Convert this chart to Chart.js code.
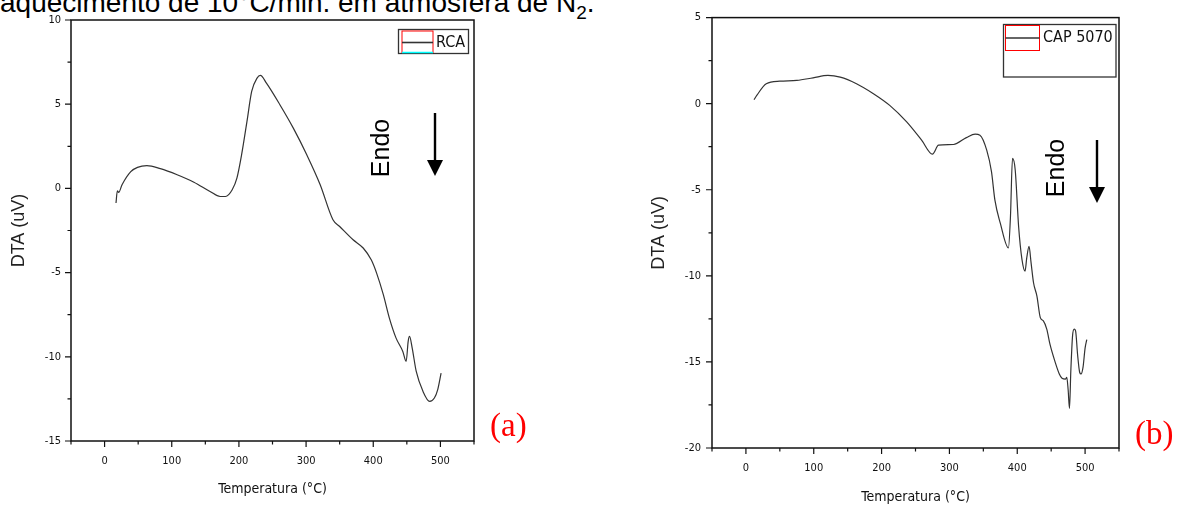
<!DOCTYPE html>
<html>
<head>
<meta charset="utf-8">
<script src="https://cdn.jsdelivr.net/npm/chart.js@4"></script>
<style>
  body { margin:0; background:#fff; width:1179px; height:508px; overflow:hidden; position:relative; font-family:Arial, 'Liberation Sans', sans-serif; }
  .cap { position:absolute; left:0; top:-11px; font-size:28px; line-height:28px; white-space:nowrap; color:#000; }
  .cap span { font-size:19px; position:relative; top:7px; }
  .tag { position:absolute; color:#f00; font-family:'Liberation Serif','Times New Roman',serif; font-size:33px; line-height:33px; }
  .box { position:absolute; top:0; height:508px; }
</style>
</head>
<body>
<div class="cap">aquecimento de 10°C/min. em atmosfera de N<span>2</span>.</div>
<div class="box" style="left:0;width:590px"><canvas id="dtaA"></canvas></div>
<div class="box" style="left:590px;width:589px"><canvas id="dtaB"></canvas></div>
<div class="tag" style="left:490px;top:409px">(a)</div>
<div class="tag" style="left:1135px;top:417px">(b)</div>

<script>
// (a) RCA  -- temperatura (°C) / DTA (uV)
var rcaTemp = [17, 19, 21, 26, 39, 49, 63, 83, 108, 133, 157, 172, 180, 190, 197, 204, 212, 219, 227, 232, 241, 261, 281, 301, 321, 340, 350, 370, 385, 397, 405, 415, 424, 434, 444, 449, 452, 454, 458, 464, 474, 484, 491, 496, 501];
var rcaDTA  = [-0.87, -0.14, -0.24, 0.22, 1.0, 1.25, 1.35, 1.17, 0.81, 0.37, -0.18, -0.48, -0.48, -0.08, 0.61, 2.0, 3.98, 5.76, 6.55, 6.71, 6.25, 4.97, 3.58, 2.0, 0.22, -1.86, -2.26, -3.05, -3.54, -4.24, -5.03, -6.31, -7.7, -8.89, -9.68, -10.27, -9.08, -8.79, -9.48, -10.87, -12.05, -12.65, -12.45, -11.95, -10.97];

// (b) CAP 5070
var capTemp = [12, 16, 30, 50, 75, 99, 121, 139, 163, 188, 212, 237, 259, 275, 284, 306, 325, 338, 345, 355, 362, 367, 375, 387, 390, 393, 397, 402, 407, 411.5, 414, 417.4, 420.4, 424, 429, 434, 438.5, 443.5, 448.4, 455.8, 462, 466, 471, 473, 475, 477, 479, 481.5, 484, 486, 489, 492, 494, 497, 500, 502.5];
var capDTA  = [0.23, 0.48, 1.16, 1.31, 1.35, 1.5, 1.64, 1.54, 1.16, 0.58, -0.1, -1.06, -2.12, -2.93, -2.41, -2.37, -1.97, -1.77, -1.83, -2.7, -3.95, -5.59, -6.94, -8.38, -6.55, -3.18, -3.85, -7.13, -9.06, -9.73, -8.96, -8.29, -9.25, -10.4, -11.18, -12.43, -12.62, -13.1, -14.0, -15.0, -15.7, -15.95, -16.0, -15.9, -16.6, -17.7, -15.5, -13.5, -13.1, -13.2, -14.6, -15.6, -15.7, -15.3, -14.2, -13.7];

// tick labels
var xTicks  = [0, 100, 200, 300, 400, 500];
var xMinor  = [-50, 50, 150, 250, 350, 450, 550];
var yTicksA = [-15, -10, -5, 0, 5, 10];
var yMinorA = [-12.5, -7.5, -2.5, 2.5, 7.5];
var yTicksB = [-20, -15, -10, -5, 0, 5];
var yMinorB = [-17.5, -12.5, -7.5, -2.5, 2.5];

var narrow = "'Liberation Sans Narrow', 'Arial Narrow', 'DejaVu Sans Condensed', Arial, sans-serif";

// frame, tick marks, legend box and the Endo arrow (Origin style)
var framePlugin = {
  id: 'frame',
  afterDraw: function(chart, args, o) {
    var ctx = chart.ctx, a = chart.chartArea;
    var xs = chart.scales.x, ys = chart.scales.y;
    ctx.save();
    ctx.strokeStyle = '#111';
    ctx.lineWidth = 1.5;
    ctx.strokeRect(a.left, a.top, a.right - a.left, a.bottom - a.top);

    ctx.lineWidth = 1.2;
    ctx.beginPath();
    o.xMajor.forEach(function(v) { var p = xs.getPixelForValue(v); ctx.moveTo(p, a.bottom); ctx.lineTo(p, a.bottom + 6); });
    o.xMinor.forEach(function(v) { var p = xs.getPixelForValue(v); ctx.moveTo(p, a.bottom); ctx.lineTo(p, a.bottom + 3.5); });
    o.yMajor.forEach(function(v) { var p = ys.getPixelForValue(v); ctx.moveTo(a.left, p); ctx.lineTo(a.left - 6, p); });
    o.yMinor.forEach(function(v) { var p = ys.getPixelForValue(v); ctx.moveTo(a.left, p); ctx.lineTo(a.left - 3.5, p); });
    ctx.stroke();

    // legend
    var L = o.legend;
    ctx.strokeStyle = '#333';
    ctx.lineWidth = 1.3;
    ctx.strokeRect(L.x, L.y, L.w, L.h);
    ctx.strokeStyle = '#f00';
    ctx.lineWidth = 1;
    ctx.strokeRect(L.sx, L.sy, L.sw, L.sh);
    if (L.cyan) {
      ctx.strokeStyle = '#0ff';
      ctx.lineWidth = 1.5;
      ctx.beginPath(); ctx.moveTo(L.sx, L.sy + L.sh); ctx.lineTo(L.sx + L.sw, L.sy + L.sh); ctx.stroke();
    }
    ctx.strokeStyle = '#333';
    ctx.lineWidth = 1.6;
    ctx.beginPath(); ctx.moveTo(L.sx, L.ly); ctx.lineTo(L.sx + L.sw, L.ly); ctx.stroke();
    ctx.fillStyle = '#111';
    ctx.font = L.size + 'px ' + narrow;
    ctx.textBaseline = 'middle';
    ctx.textAlign = 'left';
    ctx.fillText(L.text, L.tx, L.ly);

    // Endo + arrow
    var E = o.endo;
    ctx.save();
    ctx.translate(E.tx, E.ty);
    ctx.rotate(-Math.PI / 2);
    ctx.font = '25px Arial, sans-serif';
    ctx.textAlign = 'center';
    ctx.fillStyle = '#000';
    ctx.fillText('Endo', 0, 0);
    ctx.restore();
    ctx.strokeStyle = '#000';
    ctx.lineWidth = 2.4;
    ctx.beginPath(); ctx.moveTo(E.ax, E.a0); ctx.lineTo(E.ax, E.a1 - 14); ctx.stroke();
    ctx.fillStyle = '#000';
    ctx.beginPath();
    ctx.moveTo(E.ax - 8, E.a1 - 16);
    ctx.lineTo(E.ax + 8, E.a1 - 16);
    ctx.lineTo(E.ax, E.a1);
    ctx.closePath();
    ctx.fill();
    ctx.restore();
  }
};

function makeChart(id, temp, dta, yMin, yMax, yMajor, yMinor, lay) {
  var pts = temp.map(function(t, i) { return {x: t, y: dta[i]}; });
  var allX = xMinor.concat(xTicks).sort(function(a, b) { return a - b; });
  var allY = yMinor.concat(yMajor).sort(function(a, b) { return a - b; });
  return new Chart(document.getElementById(id), {
    type: 'line',
    data: {
      datasets: [{
        data: pts,
        borderColor: '#333',
        borderWidth: 1.2,
        pointRadius: 0,
        fill: false,
        cubicInterpolationMode: 'monotone'
      }]
    },
    options: {
      responsive: true,
      maintainAspectRatio: false,
      animation: false,
      layout: { padding: { left: 0, top: lay.top, right: lay.right, bottom: 0 } },
      plugins: {
        legend: { display: false },
        tooltip: { enabled: false },
        frame: { xMajor: xTicks, xMinor: xMinor, yMajor: yMajor, yMinor: yMinor, legend: lay.legend, endo: lay.endo }
      },
      scales: {
        x: {
          type: 'linear', min: -50, max: 550,
          afterBuildTicks: function(s) { s.ticks = allX.map(function(v) { return {value: v}; }); },
          afterFit: function(s) { s.height = lay.xh; },
          grid: { display: false, drawTicks: false },
          border: { display: false },
          ticks: {
            autoSkip: false, maxRotation: 0, padding: lay.xpad, color: '#111',
            font: { family: narrow, size: 11 },
            callback: function(v) { return xTicks.indexOf(v) >= 0 ? String(v) : ''; }
          },
          title: { display: true, text: 'Temperatura (°C)', color: '#111', font: { family: narrow, size: 14 }, padding: { top: 0, bottom: lay.xtb } }
        },
        y: {
          type: 'linear', min: yMin, max: yMax,
          afterBuildTicks: function(s) { s.ticks = allY.map(function(v) { return {value: v}; }); },
          afterFit: function(s) { s.width = lay.yw; },
          grid: { display: false, drawTicks: false },
          border: { display: false },
          ticks: {
            autoSkip: false, padding: lay.ypad, color: '#111',
            font: { family: narrow, size: 11 },
            callback: function(v) { return yMajor.indexOf(v) >= 0 ? String(v) : ''; }
          },
          title: { display: true, text: 'DTA (uV)', color: '#222', font: { family: 'Arial, sans-serif', size: 18 }, padding: { top: lay.ytp, bottom: 0 } }
        }
      }
    },
    plugins: [framePlugin]
  });
}

makeChart('dtaA', rcaTemp, rcaDTA, -15, 10, yTicksA, yMinorA, {
  top: 20, right: 116, xh: 67, yw: 71, xpad: 14, ypad: 10, xtb: 10.6, ytp: 7.9,
  legend: { x: 398.5, y: 29.5, w: 70, h: 24, sx: 402, sy: 31, sw: 31, sh: 21.5, ly: 42.5, tx: 436, text: 'RCA', size: 16, cyan: true },
  endo: { tx: 382, ty: 148, ax: 435, a0: 113, a1: 176 }
});

makeChart('dtaB', capTemp, capDTA, -20, 5, yTicksB, yMinorB, {
  top: 15, right: 60, xh: 60, yw: 122, xpad: 14, ypad: 11, xtb: 2.6, ytp: 57.9,
  legend: { x: 413.5, y: 24.5, w: 112.5, h: 52.5, sx: 415.5, sy: 25.5, sw: 34, sh: 25, ly: 38, tx: 453, text: 'CAP 5070', size: 16, cyan: false },
  endo: { tx: 467, ty: 168, ax: 507, a0: 140, a1: 203 }
});
</script>
</body>
</html>
